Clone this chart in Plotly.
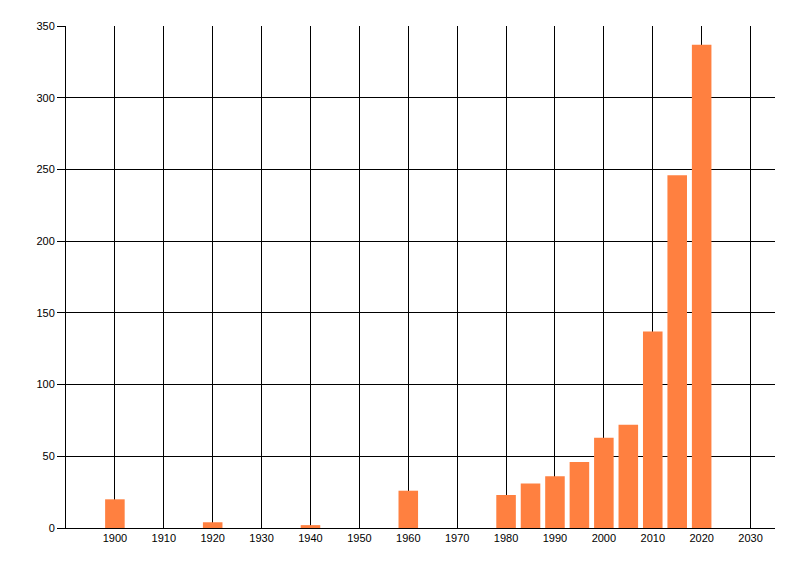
import plotly.graph_objs as go

# year of each bar and its height
years = [1900, 1920, 1940, 1960, 1980, 1985, 1990, 1995, 2000, 2005, 2010, 2015, 2020]
counts = [20, 4, 2, 26, 23, 31, 36, 46, 63, 72, 137, 246, 337]

x_ticks = list(range(1900, 2031, 10))
y_ticks = list(range(0, 351, 50))

bars = go.Bar(x=years, y=counts, width=4, marker=dict(color="#FF8040", line=dict(width=0)))

# page body adds 8px offset, so margins are shifted to compensate
layout = go.Layout(
    width=800, height=576,
    margin=dict(l=58, r=33, t=18, b=56),
    paper_bgcolor="white", plot_bgcolor="white",
    font=dict(family="Liberation Sans, Arial, sans-serif", size=11, color="black"),
    showlegend=False,
    xaxis=dict(
        range=[1890, 2035], tickvals=x_ticks, ticktext=[str(t) for t in x_ticks],
        showgrid=True, gridcolor="black", gridwidth=1,
        showline=True, linecolor="black", linewidth=1,
        ticks="", zeroline=False,
    ),
    yaxis=dict(
        range=[0, 350], tickvals=y_ticks,
        showgrid=True, gridcolor="black", gridwidth=1,
        showline=True, linecolor="black", linewidth=1,
        ticks="outside", ticklen=8, tickcolor="black",
        zeroline=False,
    ),
)

fig = go.Figure(data=[bars], layout=layout)
fig.write_html("out.html")
